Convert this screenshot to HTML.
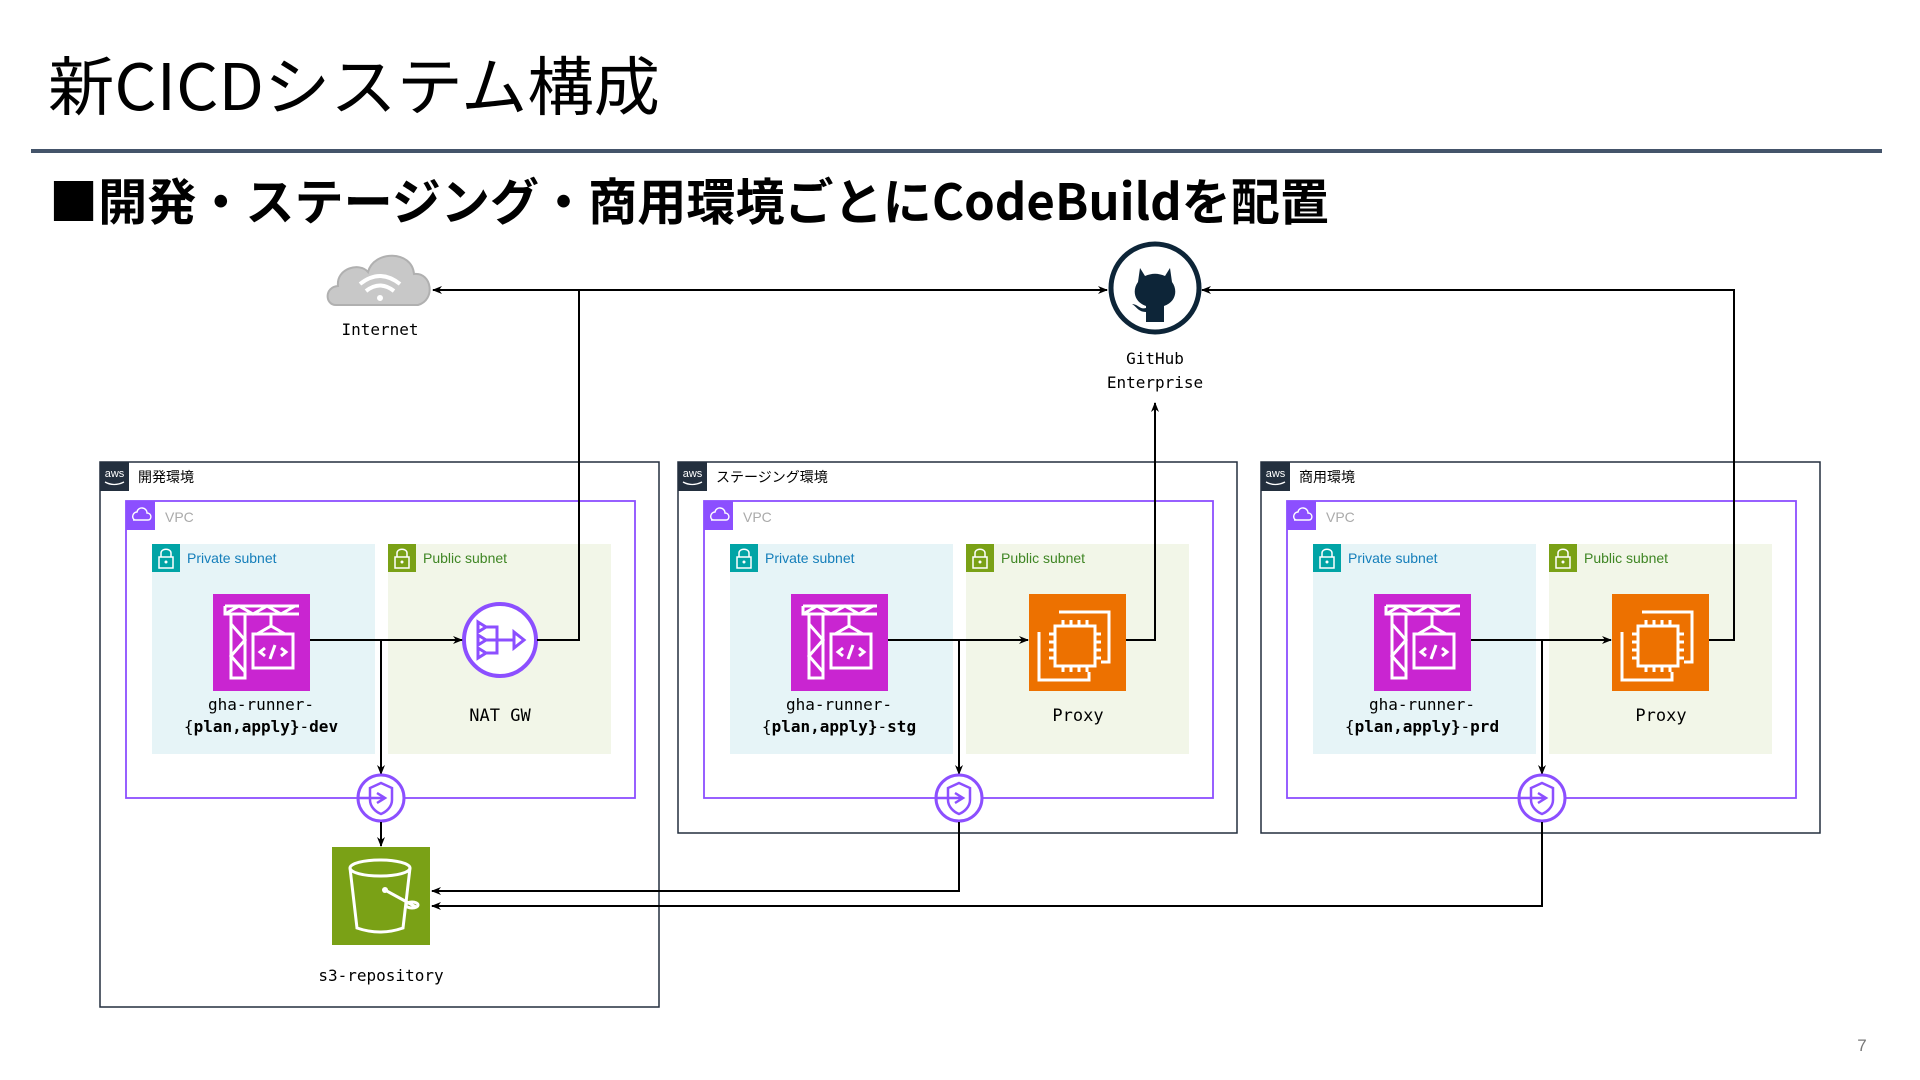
<!DOCTYPE html>
<html><head><meta charset="utf-8">
<style>
html,body{margin:0;padding:0;background:#fff;width:1920px;height:1080px;overflow:hidden}
svg{display:block}
.mono{font-family:"DejaVu Sans Mono","Liberation Mono",monospace}
.sans{font-family:"Liberation Sans","Noto Sans CJK JP",sans-serif}
</style></head><body>
<svg width="1920" height="1080" viewBox="0 0 1920 1080" xmlns="http://www.w3.org/2000/svg">
<defs>
<marker id="ar" markerWidth="10" markerHeight="10" refX="9" refY="5" orient="auto" markerUnits="userSpaceOnUse">
<path d="M0,1 L10,5 L0,9 L3,5 Z" fill="#000"/></marker>
<g id="cb">
<rect x="0" y="0" width="97" height="97" fill="#c925d1"/>
<g fill="none" stroke="#fff" stroke-width="3">
<path d="M12 12 H86 M12 12 V20 H86 M12 20 L26 12 L40 20 L54 12 L68 20 L82 12"/>
<path d="M18 20 V84 H32 V20 M18 30 L32 46 L18 62 L32 78"/>
<path d="M58 20 V32 M44 40 L58 32 L72 40 M40 40 H80 V74 H40 Z"/>
<path d="M52 54 L47 58 L52 62 M68 54 L73 58 L68 62 M62 51 L57 65"/>
</g></g>
<g id="ep">
<circle cx="0" cy="0" r="23" fill="#fff" stroke="#8c4fff" stroke-width="3"/>
<path d="M0 -15 L11 -10 V2 C11 9 5 14 0 16 C-5 14 -11 9 -11 2 V-10 Z" fill="none" stroke="#8c4fff" stroke-width="2.5"/>
<path d="M-4 -5 L4 0 L-4 5 M-22 0 H4" fill="none" stroke="#8c4fff" stroke-width="2.5"/>
</g>
<g id="ec2">
<rect x="0" y="0" width="97" height="97" fill="#ed7100"/>
<g fill="none" stroke="#fff" stroke-width="3">
<path d="M30 18 H80 V68 H72 M10 38 V86 H60 V78"/>
<rect x="26" y="32" width="40" height="40"/>
<path d="M34 26 V32 M42 26 V32 M50 26 V32 M58 26 V32 M34 72 V78 M42 72 V78 M50 72 V78 M58 72 V78 M20 40 H26 M20 48 H26 M20 56 H26 M20 64 H26 M66 40 H72 M66 48 H72 M66 56 H72 M66 64 H72"/>
</g></g>
<g id="lock">
<path d="M9 13 V9 C9 4 19 4 19 9 V13" fill="none" stroke="#fff" stroke-width="1.5"/>
<rect x="7" y="13" width="14" height="11" fill="none" stroke="#fff" stroke-width="1.5"/>
<circle cx="14" cy="18" r="1.5" fill="#fff"/>
</g>
<g id="env">
<rect x="0" y="0" width="29" height="29" fill="#232f3e"/>
<text x="14.5" y="15" fill="#fff" font-size="11" text-anchor="middle" class="sans">aws</text>
<path d="M5 20 Q14 25 24 20" fill="none" stroke="#fff" stroke-width="1.3"/>
<rect x="26" y="39" width="509" height="297" fill="none" stroke="#8c4fff" stroke-width="1.8"/>
<rect x="26" y="39" width="29" height="29" fill="#8c4fff"/>
<path d="M33 58 H48 C52 58 52 51 47 51 C47 45 38 44 37 50 C32 50 31 58 36 58" fill="none" stroke="#fff" stroke-width="1.4"/>
<text x="65" y="60" fill="#aaaaaa" font-size="14" class="sans">VPC</text>
<rect x="52" y="82" width="223" height="210" fill="#e6f4f7"/>
<rect x="52" y="82" width="28" height="28" fill="#01a4a6"/>
<use href="#lock" x="52" y="82"/>
<text x="87" y="101" fill="#147eba" font-size="14" class="sans">Private subnet</text>
<rect x="288" y="82" width="223" height="210" fill="#f2f6e8"/>
<rect x="288" y="82" width="28" height="28" fill="#7aa116"/>
<use href="#lock" x="288" y="82"/>
<text x="323" y="101" fill="#3f8624" font-size="14" class="sans">Public subnet</text>
<use href="#cb" x="113" y="132"/>
<text x="161" y="248" font-size="16" text-anchor="middle" class="mono">gha-runner-</text>
</g>
</defs>

<!-- Title -->
<text x="48" y="110" font-size="64" class="sans" style="font-family:'Noto Sans CJK JP','Liberation Sans',sans-serif" textLength="612" lengthAdjust="spacingAndGlyphs">新CICDシステム構成</text>
<rect x="31" y="149" width="1851" height="4" fill="#44546a"/>
<text x="49" y="220" font-size="50" font-weight="bold" style="font-family:'Noto Sans CJK JP','Liberation Sans',sans-serif" textLength="1280" lengthAdjust="spacingAndGlyphs">■開発・ステージング・商用環境ごとにCodeBuildを配置</text>

<!-- Internet -->
<path d="M336 305 C325 305 324 287 338 286 C336 268 360 262 368 272 C374 250 412 250 414 274 C432 272 436 300 418 305 Z" fill="#c8c8c8" stroke="#b0b0b0" stroke-width="2"/>
<g fill="none" stroke="#fff" stroke-width="4"><path d="M360 284 Q380 268 400 284 M366 291 Q380 280 394 291"/></g>
<circle cx="380" cy="298" r="3" fill="#fff"/>
<text x="380" y="335" font-size="16" text-anchor="middle" class="mono">Internet</text>

<!-- GitHub -->
<circle cx="1155" cy="288" r="44" fill="#fff" stroke="#0d2538" stroke-width="5"/>
<path d="M1140 268 L1145 276 C1152 273 1158 273 1165 276 L1170 268 L1172 282 C1178 290 1176 302 1164 306 V322 H1146 V312 C1138 312 1136 306 1132 304 C1138 304 1140 310 1146 308 V306 C1134 302 1132 290 1138 282 Z" fill="#0d2538"/>
<text x="1155" y="364" font-size="16" text-anchor="middle" class="mono">GitHub</text>
<text x="1155" y="388" font-size="16" text-anchor="middle" class="mono">Enterprise</text>

<!-- Dev env -->
<g transform="translate(100,462)">
<rect x="0" y="0" width="559" height="545" fill="none" stroke="#232f3e" stroke-width="1.5"/>
<use href="#env"/>
<text x="38" y="20" font-size="14" style="font-family:'Noto Sans CJK JP',sans-serif">開発環境</text>
<text x="161" y="270" font-size="16" text-anchor="middle" class="mono"><tspan>{</tspan><tspan font-weight="bold">plan,apply}</tspan><tspan>-</tspan><tspan font-weight="bold">dev</tspan></text>
<circle cx="400" cy="178" r="36" fill="#fff" stroke="#8c4fff" stroke-width="4"/>
<g fill="none" stroke="#8c4fff" stroke-width="3"><path d="M378 160 L386 165 L378 170 Z M378 173 L386 178 L378 183 Z M378 186 L386 191 L378 196 Z M386 165 H397 V191 H386 M386 178 H414 M414 170 L424 178 L414 186 Z"/></g>
<text x="400" y="259" font-size="17" text-anchor="middle" class="mono">NAT GW</text>
<path d="M210 178 H362" stroke="#000" stroke-width="2" fill="none" marker-end="url(#ar)"/>
<path d="M281 178 V312" stroke="#000" stroke-width="2" fill="none" marker-end="url(#ar)"/>
<path d="M437 178 H479 V-172" stroke="#000" stroke-width="2" fill="none"/>
<use href="#ep" x="281" y="336"/>
<path d="M281 360 V384" stroke="#000" stroke-width="2" fill="none" marker-end="url(#ar)"/>
<rect x="232" y="385" width="98" height="98" fill="#7aa116"/>
<g fill="none" stroke="#fff" stroke-width="3"><ellipse cx="280" cy="406" rx="30" ry="8"/><path d="M250 406 L257 466 Q280 474 303 466 L310 406"/><path d="M285 428 L316 445"/><ellipse cx="312" cy="443" rx="6" ry="3"/></g>
<circle cx="285" cy="428" r="3" fill="#fff"/>
<text x="281" y="519" font-size="16" text-anchor="middle" class="mono">s3-repository</text>
</g>

<!-- Stg env -->
<g transform="translate(678,462)">
<rect x="0" y="0" width="559" height="371" fill="none" stroke="#232f3e" stroke-width="1.5"/>
<use href="#env"/>
<text x="38" y="20" font-size="14" style="font-family:'Noto Sans CJK JP',sans-serif">ステージング環境</text>
<text x="161" y="270" font-size="16" text-anchor="middle" class="mono"><tspan>{</tspan><tspan font-weight="bold">plan,apply}</tspan><tspan>-</tspan><tspan font-weight="bold">stg</tspan></text>
<use href="#ec2" x="351" y="132"/>
<text x="400" y="259" font-size="17" text-anchor="middle" class="mono">Proxy</text>
<path d="M210 178 H350" stroke="#000" stroke-width="2" fill="none" marker-end="url(#ar)"/>
<path d="M281 178 V312" stroke="#000" stroke-width="2" fill="none" marker-end="url(#ar)"/>
<path d="M448 178 H477 V-59" stroke="#000" stroke-width="2" fill="none" marker-end="url(#ar)"/>
<use href="#ep" x="281" y="336"/>
</g>

<!-- Prd env -->
<g transform="translate(1261,462)">
<rect x="0" y="0" width="559" height="371" fill="none" stroke="#232f3e" stroke-width="1.5"/>
<use href="#env"/>
<text x="38" y="20" font-size="14" style="font-family:'Noto Sans CJK JP',sans-serif">商用環境</text>
<text x="161" y="270" font-size="16" text-anchor="middle" class="mono"><tspan>{</tspan><tspan font-weight="bold">plan,apply}</tspan><tspan>-</tspan><tspan font-weight="bold">prd</tspan></text>
<use href="#ec2" x="351" y="132"/>
<text x="400" y="259" font-size="17" text-anchor="middle" class="mono">Proxy</text>
<path d="M210 178 H350" stroke="#000" stroke-width="2" fill="none" marker-end="url(#ar)"/>
<path d="M281 178 V312" stroke="#000" stroke-width="2" fill="none" marker-end="url(#ar)"/>
<path d="M448 178 H473 V-172 H-59" stroke="#000" stroke-width="2" fill="none" marker-end="url(#ar)"/>
<use href="#ep" x="281" y="336"/>
</g>

<!-- global connectors -->
<path d="M679 290 H433" stroke="#000" stroke-width="2" fill="none" marker-end="url(#ar)"/>
<path d="M579 290 H1107" stroke="#000" stroke-width="2" fill="none" marker-end="url(#ar)"/>
<path d="M959 822 V891 H432" stroke="#000" stroke-width="2" fill="none" marker-end="url(#ar)"/>
<path d="M1542 822 V906 H432" stroke="#000" stroke-width="2" fill="none" marker-end="url(#ar)"/>

<text x="1862" y="1051" font-size="17" fill="#777" text-anchor="middle" class="sans">7</text>
</svg>
</body></html>
